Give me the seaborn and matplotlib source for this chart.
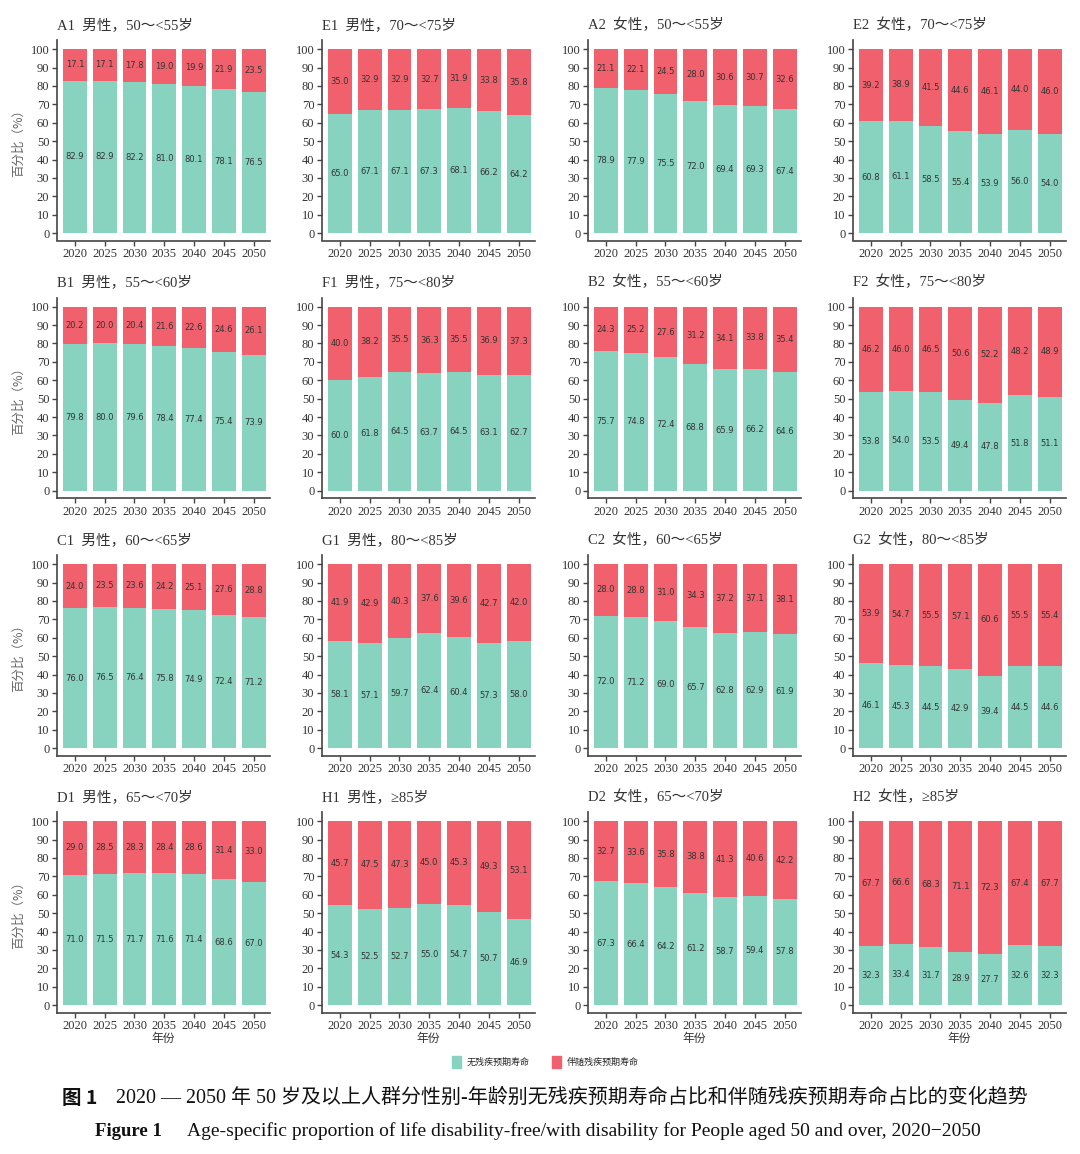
import matplotlib
matplotlib.use("Agg")
import matplotlib.pyplot as plt
import matplotlib.patches as mpatches
import seaborn as sns
import pandas as pd

sns.set_theme(style="white")
plt.rcParams['font.family'] = ['Liberation Serif', 'Noto Sans CJK SC', 'DejaVu Sans']

years = ["2020", "2025", "2030", "2035", "2040", "2045", "2050"]

# disability-free share (teal) and with-disability share (red), per panel
free_A1 = [82.9, 82.9, 82.2, 81.0, 80.1, 78.1, 76.5]
dis_A1 = [17.1, 17.1, 17.8, 19.0, 19.9, 21.9, 23.5]
free_E1 = [65.0, 67.1, 67.1, 67.3, 68.1, 66.2, 64.2]
dis_E1 = [35.0, 32.9, 32.9, 32.7, 31.9, 33.8, 35.8]
free_A2 = [78.9, 77.9, 75.5, 72.0, 69.4, 69.3, 67.4]
dis_A2 = [21.1, 22.1, 24.5, 28.0, 30.6, 30.7, 32.6]
free_E2 = [60.8, 61.1, 58.5, 55.4, 53.9, 56.0, 54.0]
dis_E2 = [39.2, 38.9, 41.5, 44.6, 46.1, 44.0, 46.0]

free_B1 = [79.8, 80.0, 79.6, 78.4, 77.4, 75.4, 73.9]
dis_B1 = [20.2, 20.0, 20.4, 21.6, 22.6, 24.6, 26.1]
free_F1 = [60.0, 61.8, 64.5, 63.7, 64.5, 63.1, 62.7]
dis_F1 = [40.0, 38.2, 35.5, 36.3, 35.5, 36.9, 37.3]
free_B2 = [75.7, 74.8, 72.4, 68.8, 65.9, 66.2, 64.6]
dis_B2 = [24.3, 25.2, 27.6, 31.2, 34.1, 33.8, 35.4]
free_F2 = [53.8, 54.0, 53.5, 49.4, 47.8, 51.8, 51.1]
dis_F2 = [46.2, 46.0, 46.5, 50.6, 52.2, 48.2, 48.9]

free_C1 = [76.0, 76.5, 76.4, 75.8, 74.9, 72.4, 71.2]
dis_C1 = [24.0, 23.5, 23.6, 24.2, 25.1, 27.6, 28.8]
free_G1 = [58.1, 57.1, 59.7, 62.4, 60.4, 57.3, 58.0]
dis_G1 = [41.9, 42.9, 40.3, 37.6, 39.6, 42.7, 42.0]
free_C2 = [72.0, 71.2, 69.0, 65.7, 62.8, 62.9, 61.9]
dis_C2 = [28.0, 28.8, 31.0, 34.3, 37.2, 37.1, 38.1]
free_G2 = [46.1, 45.3, 44.5, 42.9, 39.4, 44.5, 44.6]
dis_G2 = [53.9, 54.7, 55.5, 57.1, 60.6, 55.5, 55.4]

free_D1 = [71.0, 71.5, 71.7, 71.6, 71.4, 68.6, 67.0]
dis_D1 = [29.0, 28.5, 28.3, 28.4, 28.6, 31.4, 33.0]
free_H1 = [54.3, 52.5, 52.7, 55.0, 54.7, 50.7, 46.9]
dis_H1 = [45.7, 47.5, 47.3, 45.0, 45.3, 49.3, 53.1]
free_D2 = [67.3, 66.4, 64.2, 61.2, 58.7, 59.4, 57.8]
dis_D2 = [32.7, 33.6, 35.8, 38.8, 41.3, 40.6, 42.2]
free_H2 = [32.3, 33.4, 31.7, 28.9, 27.7, 32.6, 32.3]
dis_H2 = [67.7, 66.6, 68.3, 71.1, 72.3, 67.4, 67.7]

titles = [
    ["A1  男性，50～<55岁", "E1  男性，70～<75岁", "A2  女性，50～<55岁", "E2  女性，70～<75岁"],
    ["B1  男性，55～<60岁", "F1  男性，75～<80岁", "B2  女性，55～<60岁", "F2  女性，75～<80岁"],
    ["C1  男性，60～<65岁", "G1  男性，80～<85岁", "C2  女性，60～<65岁", "G2  女性，80～<85岁"],
    ["D1  男性，65～<70岁", "H1  男性，≥85岁", "D2  女性，65～<70岁", "H2  女性，≥85岁"],
]
panels = [
    [(free_A1, dis_A1), (free_E1, dis_E1), (free_A2, dis_A2), (free_E2, dis_E2)],
    [(free_B1, dis_B1), (free_F1, dis_F1), (free_B2, dis_B2), (free_F2, dis_F2)],
    [(free_C1, dis_C1), (free_G1, dis_G1), (free_C2, dis_C2), (free_G2, dis_G2)],
    [(free_D1, dis_D1), (free_H1, dis_H1), (free_D2, dis_D2), (free_H2, dis_H2)],
]
legend_labels = ["无残疾预期寿命", "伴随残疾预期寿命"]

TEAL = "#88D3C0"
RED = "#F0616D"
W, H = 1080, 1154

fig = plt.figure(figsize=(W / 100, H / 100), dpi=100)

col_left = [57, 322, 588, 853]
row_bottom = [240.5, 498, 755.5, 1012.5]
ax_w, ax_h = 213, 200.5

for r in range(4):
    for c in range(4):
        free, dis = panels[r][c]
        df = pd.DataFrame({"year": years, "free": free, "dis": dis})
        df["total"] = df["free"] + df["dis"]
        ax = fig.add_axes([col_left[c] / W, 1 - row_bottom[r] / H, ax_w / W, ax_h / H])
        sns.barplot(data=df, x="year", y="total", order=years, color=RED,
                    saturation=1, width=0.8, ax=ax, linewidth=0)
        sns.barplot(data=df, x="year", y="free", order=years, color=TEAL,
                    saturation=1, width=0.8, ax=ax, linewidth=0)
        for i, (f, d) in enumerate(zip(free, dis)):
            ax.text(i, f / 2, f"{f:.1f}", ha="center", va="center",
                    fontsize=6, color="#333333", family=["DejaVu Sans"])
            ax.text(i, f + d / 2, f"{d:.1f}", ha="center", va="center",
                    fontsize=6, color="#333333", family=["DejaVu Sans"])
        ax.set_xlim(-0.6, 6.55)
        ax.set_ylim(-4, 105)
        ax.set_yticks(range(0, 101, 10))
        ax.tick_params(axis="both", which="both", direction="out", length=3.5,
                       width=1, color="#444444", labelsize=9, labelcolor="#333333",
                       pad=2, left=True, bottom=True)
        for s in ["top", "right"]:
            ax.spines[s].set_visible(False)
        for s in ["left", "bottom"]:
            ax.spines[s].set_color("#444444")
            ax.spines[s].set_linewidth(1.2)
        ax.set_title(titles[r][c], loc="left", fontsize=10.5, color="#333333",
                     pad=8, family=["Liberation Serif", "Noto Sans CJK SC"], x=0.0)
        if c == 0:
            ax.set_ylabel("百分比（%）", fontsize=9, color="#666666",
                          family=["Noto Sans CJK SC"], labelpad=4)
        else:
            ax.set_ylabel("")
        if r == 3:
            ax.set_xlabel("年份", fontsize=8.5, color="#333333",
                          family=["Noto Sans CJK SC"], labelpad=0)
        else:
            ax.set_xlabel("")

handles = [mpatches.Patch(color=TEAL, label=legend_labels[0]),
           mpatches.Patch(color=RED, label=legend_labels[1])]
fig.legend(handles=handles, loc="center", bbox_to_anchor=(0.505, 1 - 1062 / H),
           ncol=2, frameon=False, prop={"family": "Noto Sans CJK SC", "size": 6.5},
           handlelength=1.0, handleheight=1.6, columnspacing=2.5, handletextpad=0.6)

fig.text(62 / W, 1 - 1098 / H, "图 1", fontsize=14, fontweight="bold",
         family=["Noto Sans CJK SC"], va="center", ha="left", color="#111111")
fig.text(116 / W, 1 - 1098 / H,
         "2020 — 2050 年 50 岁及以上人群分性别-年龄别无残疾预期寿命占比和伴随残疾预期寿命占比的变化趋势",
         fontsize=14.4, family=["Liberation Serif", "Noto Sans CJK SC"], va="center",
         ha="left", color="#111111")
fig.text(95 / W, 1 - 1131 / H, "Figure 1", fontsize=13.5, fontweight="bold",
         family=["Liberation Serif"], va="center", ha="left", color="#111111")
fig.text(187 / W, 1 - 1131 / H,
         "Age-specific proportion of life disability-free/with disability for People aged 50 and over, 2020−2050",
         fontsize=14, family=["Liberation Serif"], va="center", ha="left", color="#111111")

fig.savefig("out.png", dpi=100, facecolor="white")
